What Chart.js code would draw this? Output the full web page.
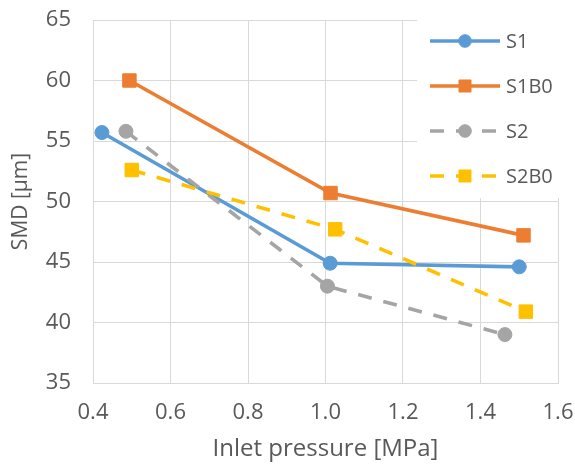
<!DOCTYPE html>
<html>
<head>
<meta charset="utf-8">
<script src="https://cdn.jsdelivr.net/npm/chart.js@4/dist/chart.umd.min.js"></script>
<style>
  html, body { margin: 0; padding: 0; background: #ffffff; }
  #wrap { width: 575px; height: 466px; }
</style>
</head>
<body>
<div id="wrap"><canvas id="c" width="575" height="466"></canvas></div>
<script>
// ---- data ----
const seriesNames = ["S1", "S1B0", "S2", "S2B0"];
const xS1   = [0.423, 1.012, 1.500];
const yS1   = [55.7, 44.9, 44.6];
const xS1B0 = [0.494, 1.013, 1.511];
const yS1B0 = [60.0, 50.7, 47.2];
const xS2   = [0.485, 1.005, 1.463];
const yS2   = [55.8, 43.0, 39.0];
const xS2B0 = [0.500, 1.025, 1.517];
const yS2B0 = [52.6, 47.7, 40.9];
const xTicks = [0.4, 0.6, 0.8, 1.0, 1.2, 1.4, 1.6];
const yTicks = [35, 40, 45, 50, 55, 60, 65];
const xTitle = "Inlet pressure [MPa]";
const yTitle = "SMD [µm]";

const pts = (xs, ys) => xs.map((x, i) => ({ x: x, y: ys[i] }));

const FONT = "'Open Sans', 'DejaVu Sans', sans-serif";
const TEXT = "#595959";
const GRID = "#d9d9d9";
const LW = 3.6;

function ds(label, xs, ys, color, style, radius, dash, order) {
  return {
    label: label,
    data: pts(xs, ys),
    borderColor: color,
    backgroundColor: color,
    borderWidth: LW,
    borderDash: dash,
    pointStyle: style,
    pointRadius: radius,
    pointHoverRadius: radius,
    pointBorderWidth: 1,
    pointBorderColor: color,
    pointBackgroundColor: color,
    showLine: true,
    tension: 0,
    order: order
  };
}

const datasets = [
  ds(seriesNames[0], xS1, yS1, "#5b9bd5", "circle", 7, [], 4),
  ds(seriesNames[1], xS1B0, yS1B0, "#ed7d31", "rect", 9.5, [], 3),
  ds(seriesNames[2], xS2, yS2, "#a5a5a5", "circle", 7, [14, 12], 2),
  ds(seriesNames[3], xS2B0, yS2B0, "#ffc000", "rect", 9.5, [14, 12], 1)
];

// Legend drawn inside the plot area (top-right), on a white box
const boxLegend = {
  id: "boxLegend",
  afterDraw(chart) {
    const ctx = chart.ctx;
    const ca = chart.chartArea;
    const boxL = ca.right - 141;
    ctx.save();
    ctx.fillStyle = "#ffffff";
    ctx.fillRect(boxL, 0, chart.width - boxL, ca.top + 178);
    const lineX0 = ca.right - 128, lineX1 = ca.right - 58, textX = ca.right - 52;
    const rowY0 = ca.top + 21, rowStep = 45;
    chart.data.datasets.forEach((d, i) => {
      const y = rowY0 + i * rowStep;
      ctx.save();
      ctx.strokeStyle = d.borderColor;
      ctx.lineWidth = LW;
      ctx.setLineDash(d.borderDash && d.borderDash.length ? d.borderDash : []);
      ctx.beginPath();
      ctx.moveTo(lineX0, y);
      ctx.lineTo(lineX1, y);
      ctx.stroke();
      ctx.restore();
      ctx.save();
      ctx.fillStyle = d.pointBackgroundColor;
      ctx.strokeStyle = d.pointBorderColor;
      ctx.lineWidth = 1;
      Chart.helpers.drawPoint(ctx, {
        pointStyle: d.pointStyle,
        radius: d.pointStyle === "rect" ? 8.5 : 6.3,
        rotation: 0,
        borderWidth: 1
      }, (lineX0 + lineX1) / 2, y);
      ctx.restore();
      ctx.fillStyle = TEXT;
      ctx.font = "20px " + FONT;
      ctx.textAlign = "left";
      ctx.textBaseline = "middle";
      ctx.fillText(d.label, textX, y + 1);
    });
    ctx.restore();
  }
};

new Chart(document.getElementById("c"), {
  type: "scatter",
  data: { datasets: datasets },
  plugins: [boxLegend],
  options: {
    responsive: false,
    animation: false,
    events: [],
    layout: { padding: { top: 20, right: 17, bottom: 0, left: 0 } },
    plugins: {
      legend: { display: false },
      tooltip: { enabled: false }
    },
    scales: {
      x: {
        type: "linear",
        min: xTicks[0],
        max: xTicks[xTicks.length - 1],
        afterBuildTicks: (s) => { s.ticks = xTicks.map(v => ({ value: v })); },
        ticks: {
          font: { family: FONT, size: 22 },
          color: TEXT,
          padding: 17,
          callback: (v) => Number(v).toFixed(1),
          maxRotation: 0
        },
        grid: { color: GRID, lineWidth: 1, drawTicks: false },
        border: { color: GRID, width: 1 },
        title: {
          display: true,
          text: xTitle,
          font: { family: FONT, size: 24 },
          color: TEXT,
          padding: { top: 0, bottom: 2 }
        },
        afterFit: (s) => { s.height = 83; s.paddingLeft = 0; s.paddingRight = 0; }
      },
      y: {
        type: "linear",
        min: yTicks[0],
        max: yTicks[yTicks.length - 1],
        afterBuildTicks: (s) => { s.ticks = yTicks.map(v => ({ value: v })); },
        ticks: {
          font: { family: FONT, size: 22 },
          color: TEXT,
          padding: 22
        },
        grid: { color: GRID, lineWidth: 1, drawTicks: false },
        border: { color: GRID, width: 1 },
        title: {
          display: true,
          text: yTitle,
          font: { family: FONT, size: 21 },
          color: TEXT,
          padding: { top: 8, bottom: 0 }
        },
        afterFit: (s) => { s.width = 93; s.paddingTop = 0; s.paddingBottom = 0; }
      }
    }
  }
});
</script>
</body>
</html>
